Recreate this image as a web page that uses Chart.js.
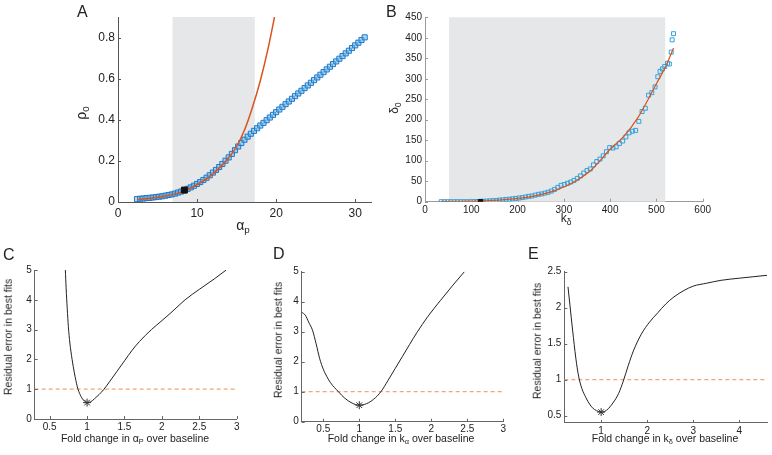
<!DOCTYPE html>
<html>
<head>
<meta charset="utf-8">
<script src="https://cdn.jsdelivr.net/npm/chart.js@4.4.1/dist/chart.umd.min.js"></script>
<style>
  body { margin: 0; background: #fff; }
  #fig { position: relative; width: 772px; height: 455px; overflow: hidden;
         font-family: "Liberation Sans", Arial, sans-serif; color: #222; }
  #fig canvas { position: absolute; }
  .lbl { position: absolute; white-space: nowrap; line-height: 1; }
  .lbl sub { font-size: 70%; vertical-align: -0.35em; line-height: 0; }
  .letter { font-size: 16px; }
  .rot { transform: translate(-50%, -50%) rotate(-90deg); }
  .ctr { transform: translate(-50%, -50%); }
</style>
</head>
<body>
<div id="fig">
  <canvas id="cA"></canvas>
  <canvas id="cB"></canvas>
  <canvas id="cC"></canvas>
  <canvas id="cD"></canvas>
  <canvas id="cE"></canvas>

  <div class="lbl letter" style="left:77px;top:4px">A</div>
  <div class="lbl letter" style="left:386px;top:4px">B</div>
  <div class="lbl letter" style="left:3px;top:247px">C</div>
  <div class="lbl letter" style="left:273px;top:246px">D</div>
  <div class="lbl letter" style="left:528px;top:246px">E</div>

  <div class="lbl rot" style="left:81px;top:113px;font-size:14px">ρ<sub>0</sub></div>
  <div class="lbl ctr" style="left:243px;top:225px;font-size:14px">α<sub>p</sub></div>
  <div class="lbl rot" style="left:394px;top:108px;font-size:12px">δ<sub>0</sub></div>
  <div class="lbl ctr" style="left:566px;top:218px;font-size:12px">k<sub>δ</sub></div>

  <div class="lbl rot" style="left:8px;top:337px;font-size:10.5px">Residual error in best fits</div>
  <div class="lbl rot" style="left:278px;top:340px;font-size:10.5px">Residual error in best fits</div>
  <div class="lbl rot" style="left:537px;top:341px;font-size:10.5px">Residual error in best fits</div>

  <div class="lbl ctr" style="left:135px;top:438px;font-size:10.5px">Fold change in α<sub>P</sub> over baseline</div>
  <div class="lbl ctr" style="left:401px;top:438px;font-size:10.5px">Fold change in k<sub>α</sub> over baseline</div>
  <div class="lbl ctr" style="left:665px;top:438px;font-size:10.5px">Fold change in k<sub>δ</sub> over baseline</div>
</div>

<script>
const FONT = '"Liberation Sans", Arial, sans-serif';

// ---- panel A : rho0 vs alpha_p
const alphaP = [2.4, 2.8, 3.2, 3.6, 4.0, 4.4, 4.8, 5.2, 5.6, 6.0, 6.4, 6.8, 7.2, 7.6, 8.0, 8.4, 8.8, 9.2, 9.6, 10.0,
  10.4, 10.8, 11.2, 11.6, 12.0, 12.4, 12.8, 13.2, 13.6, 14.0, 14.4, 14.8, 15.2, 15.6, 16.0, 16.4, 16.8, 17.2, 17.6, 18.0,
  18.4, 18.8, 19.2, 19.6, 20.0, 20.4, 20.8, 21.2, 21.6, 22.0, 22.4, 22.8, 23.2, 23.6, 24.0, 24.4, 24.8, 25.2, 25.6, 26.0,
  26.4, 26.8, 27.2, 27.6, 28.0, 28.4, 28.8, 29.2, 29.6, 30.0, 30.4, 30.8, 31.2];
const rho0 = [0.014, 0.016, 0.017, 0.019, 0.020, 0.022, 0.024, 0.026, 0.028, 0.031, 0.034, 0.037, 0.041, 0.046, 0.051, 0.057, 0.064, 0.071, 0.079, 0.088,
  0.097, 0.107, 0.118, 0.130, 0.143, 0.156, 0.170, 0.185, 0.201, 0.217, 0.234, 0.252, 0.270, 0.287, 0.303, 0.318, 0.332, 0.346, 0.359, 0.372,
  0.385, 0.398, 0.411, 0.424, 0.437, 0.450, 0.463, 0.476, 0.489, 0.502, 0.515, 0.528, 0.541, 0.554, 0.567, 0.580, 0.593, 0.606, 0.619, 0.632,
  0.645, 0.658, 0.671, 0.684, 0.697, 0.710, 0.723, 0.736, 0.749, 0.762, 0.775, 0.788, 0.801];
const alphaFit = [2.4, 4, 6, 8, 10, 11, 12, 13, 14, 15, 16, 17, 18, 19, 19.9, 20.4];
const rhoFit = [0.012, 0.018, 0.029, 0.048, 0.084, 0.108, 0.137, 0.172, 0.215, 0.27, 0.35, 0.46, 0.59, 0.75, 0.92, 1.02];
const alphaBase = [8.4], rhoBase = [0.058];
const shadeA = [6.9, 17.3];
const ticksAx = [0, 10, 20, 30], ticksAy = [0, 0.2, 0.4, 0.6, 0.8];

// ---- panel B : delta0 vs k_delta
const kDelta = [35, 42, 49, 56, 63, 70, 77, 84, 91, 98, 105, 112, 119, 126, 133, 140, 147, 154, 161, 168,
  175, 182, 189, 196, 203, 210, 217, 224, 231, 238, 245, 252, 259, 266, 273, 280, 287, 294, 301, 308,
  315, 322, 329, 336, 343, 350, 357, 364, 371, 378, 385, 392, 399, 406, 413, 420, 427, 434, 441, 448,
  455, 462, 469, 476, 483, 490, 497, 503, 508, 513, 518, 524, 528, 532, 534, 537];
const delta0 = [0, 0, 0, 0, 0, 0, 0, 0, 0, 0, 0.3, 0.5, 0.6, 1, 1.5, 2, 2.5, 3, 4, 4.5,
  5.5, 6, 7, 8, 9, 10, 11.5, 13, 14, 16, 18, 19, 21, 23, 26, 30, 35, 40, 42, 45,
  48, 52, 57, 63, 70, 76, 80, 90, 98, 104, 112, 122, 132, 131, 134, 142, 148, 158, 168, 172,
  174, 196, 220, 228, 260, 266, 280, 305, 318, 324, 330, 338, 336, 365, 395, 410];
const kFit = [35, 80, 120, 160, 200, 240, 280, 320, 360, 400, 430, 460, 480, 500, 520, 537];
const deltaFit = [0, 0.5, 1.5, 4, 8, 15, 27, 47, 78, 128, 160, 205, 245, 288, 330, 375];
const kBase = [120], deltaBase = [0];
const shadeB = [52, 519];
const ticksBx = [0, 100, 200, 300, 400, 500, 600];
const ticksBy = [0, 50, 100, 150, 200, 250, 300, 350, 400, 450];

// ---- panels C, D, E : residual error vs fold change
const foldC = [0.71, 0.72, 0.735, 0.75, 0.77, 0.80, 0.83, 0.87, 0.91, 0.95, 1.0, 1.05, 1.1, 1.16, 1.22, 1.3, 1.4, 1.5, 1.6, 1.7, 1.86, 2.0, 2.15, 2.31, 2.5, 2.7, 2.86];
const errC = [5.0, 4.4, 3.7, 3.1, 2.55, 2.0, 1.55, 1.08, 0.8, 0.64, 0.55, 0.58, 0.68, 0.82, 0.98, 1.25, 1.6, 1.95, 2.3, 2.6, 3.0, 3.3, 3.63, 4.0, 4.35, 4.7, 5.0];
const foldD = [0.2, 0.25, 0.3, 0.35, 0.4, 0.45, 0.5, 0.55, 0.6, 0.71, 0.8, 0.9, 1.0, 1.1, 1.2, 1.3, 1.4, 1.5, 1.6, 1.7, 1.8, 1.95, 2.13, 2.3, 2.46];
const errD = [3.65, 3.55, 3.3, 3.05, 2.6, 2.1, 1.75, 1.5, 1.3, 1.0, 0.78, 0.62, 0.55, 0.6, 0.75, 1.0, 1.38, 1.78, 2.18, 2.58, 2.97, 3.5, 4.05, 4.55, 5.0];
const foldE = [0.28, 0.32, 0.38, 0.45, 0.51, 0.58, 0.67, 0.75, 0.81, 0.9, 1.0, 1.08, 1.16, 1.27, 1.38, 1.48, 1.59, 1.7, 1.87, 2.05, 2.23, 2.4, 2.58, 2.8, 3.0, 3.29, 3.6, 4.0, 4.3, 4.6];
const errE = [2.29, 2.05, 1.69, 1.3, 1.05, 0.88, 0.75, 0.66, 0.61, 0.57, 0.55, 0.56, 0.6, 0.69, 0.81, 0.98, 1.2, 1.4, 1.63, 1.8, 1.93, 2.05, 2.15, 2.24, 2.3, 2.34, 2.38, 2.41, 2.43, 2.45];
const bestFold = [1], bestErr = [0.55];
const threshold = 1;
const ticksFold = [0.5, 1, 1.5, 2, 2.5, 3], ticksErr = [0, 1, 2, 3, 4, 5];
const ticksEx = [1, 2, 3, 4], ticksEy = [0.5, 1, 1.5, 2, 2.5];

const pts = (xs, ys) => xs.map((x, i) => ({ x, y: ys[i] }));

// grey band behind the data
const shadePlugin = {
  id: 'shade',
  beforeDatasetsDraw(chart, args, opts) {
    if (!opts || !opts.range) return;
    const { ctx, chartArea, scales } = chart;
    const x0 = scales.x.getPixelForValue(opts.range[0]);
    const x1 = scales.x.getPixelForValue(opts.range[1]);
    ctx.save();
    ctx.fillStyle = '#e6e7e9';
    ctx.fillRect(x0, chartArea.top, x1 - x0, chartArea.bottom - chartArea.top);
    ctx.restore();
  }
};

// matlab style ticks pointing into the plot
const tickMarks = {
  id: 'tickMarks',
  afterDatasetsDraw(chart) {
    const { ctx, chartArea: a, scales } = chart;
    ctx.save();
    ctx.strokeStyle = scales.x.options.border.color;
    ctx.lineWidth = 1;
    ctx.beginPath();
    scales.x.ticks.forEach(t => {
      const px = Math.round(scales.x.getPixelForValue(t.value)) + 0.5;
      ctx.moveTo(px, a.bottom); ctx.lineTo(px, a.bottom - 3);
    });
    scales.y.ticks.forEach(t => {
      const py = Math.round(scales.y.getPixelForValue(t.value)) + 0.5;
      ctx.moveTo(a.left, py); ctx.lineTo(a.left + 3, py);
    });
    ctx.stroke();
    ctx.restore();
  }
};

function axis(lim, ticks, size, color, pad, fit) {
  return {
    type: 'linear', min: lim[0], max: lim[1], bounds: 'data',
    grid: { display: false, drawTicks: false },
    border: { display: true, color: color, width: 1 },
    ticks: { font: { family: FONT, size: size }, color: '#222', padding: pad,
             autoSkip: false, maxRotation: 0, callback: v => String(v) },
    afterBuildTicks: s => { s.ticks = ticks.map(v => ({ value: v })); },
    afterFit: fit
  };
}

function panel(id, box, area, o) {
  const cv = document.getElementById(id);
  cv.width = box.w; cv.height = box.h;
  cv.style.left = box.x + 'px'; cv.style.top = box.y + 'px';
  const yW = area.l - box.x, xH = 22;
  return new Chart(cv, {
    type: 'scatter',
    data: { datasets: o.datasets },
    options: {
      responsive: false, animation: false, devicePixelRatio: 1,
      layout: { padding: { left: 0, top: area.t - box.y, right: box.x + box.w - area.r,
                           bottom: box.y + box.h - area.b - xH } },
      plugins: { legend: { display: false }, tooltip: { enabled: false },
                 shade: { range: o.shade || null } },
      scales: {
        x: axis(o.x, o.xTicks, o.size, o.axisColor, o.xPad, s => { s.height = xH; }),
        y: axis(o.y, o.yTicks, o.size, o.axisColor, 3, s => { s.width = yW; })
      }
    },
    plugins: [shadePlugin, tickMarks]
  });
}

const squares = (data, color, fill, r) => ({
  data, pointStyle: 'rect', pointRadius: r, borderColor: color, backgroundColor: fill,
  borderWidth: 1, order: 3
});
const fitLine = (data, color, width) => ({
  data, showLine: true, pointRadius: 0, borderColor: color, borderWidth: width,
  cubicInterpolationMode: 'monotone', order: 2
});
const dashed = (lo, hi) => ({
  data: pts([lo, hi], [threshold, threshold]), showLine: true, pointRadius: 0,
  borderColor: '#f2a57a', borderWidth: 1.2, borderDash: [4, 3], order: 4
});
const star = {
  data: pts(bestFold, bestErr), pointStyle: 'star', pointRadius: 4,
  borderColor: '#333', borderWidth: 1, order: 1
};

panel('cA', { x: 60, y: 0, w: 320, h: 232 }, { l: 118, t: 17, r: 371, b: 202 }, {
  x: [0, 32], y: [0, 0.9], xTicks: ticksAx, yTicks: ticksAy, size: 12, xPad: 4,
  axisColor: '#555', shade: shadeA,
  datasets: [
    squares(pts(alphaP, rho0), '#1f78c8', 'rgba(110,185,235,0.55)', 3.6),
    fitLine(pts(alphaFit, rhoFit), '#d9541e', 1.5),
    { data: pts(alphaBase, rhoBase), pointStyle: 'rect', pointRadius: 4.2,
      backgroundColor: '#111', borderColor: '#111', order: 1 }
  ]
});

panel('cB', { x: 385, y: 0, w: 330, h: 232 }, { l: 425, t: 17.3, r: 702.7, b: 201.7 }, {
  x: [0, 600], y: [0, 450], xTicks: ticksBx, yTicks: ticksBy, size: 10, xPad: 3,
  axisColor: '#9a9a9a', shade: shadeB,
  datasets: [
    squares(pts(kDelta, delta0), '#35a2dc', 'rgba(255,255,255,0)', 2.8),
    fitLine(pts(kFit, deltaFit), '#d9541e', 1.2),
    { data: pts(kBase, deltaBase), pointStyle: 'rect', pointRadius: 3.2,
      backgroundColor: '#111', borderColor: '#111', order: 1 }
  ]
});

panel('cC', { x: 0, y: 240, w: 250, h: 215 }, { l: 34.7, t: 270, r: 236.7, b: 419 }, {
  x: [0.3, 3], y: [0, 5], xTicks: ticksFold, yTicks: ticksErr, size: 10, xPad: 2,
  axisColor: '#666',
  datasets: [fitLine(pts(foldC, errC), '#222', 1), dashed(0.3, 3), star]
});

panel('cD', { x: 258, y: 240, w: 255, h: 215 }, { l: 301.7, t: 271.7, r: 503.3, b: 421.7 }, {
  x: [0.2, 3], y: [0, 5], xTicks: ticksFold, yTicks: ticksErr, size: 10, xPad: 2,
  axisColor: '#666',
  datasets: [fitLine(pts(foldD, errD), '#222', 1), dashed(0.2, 3), star]
});

panel('cE', { x: 518, y: 240, w: 254, h: 215 }, { l: 564.3, t: 271.7, r: 771, b: 422.9 }, {
  x: [0.2, 4.6], y: [0.4, 2.5], xTicks: ticksEx, yTicks: ticksEy, size: 10, xPad: 2,
  axisColor: '#666',
  datasets: [fitLine(pts(foldE, errE), '#222', 1), dashed(0.2, 4.6), star]
});
</script>
</body>
</html>
